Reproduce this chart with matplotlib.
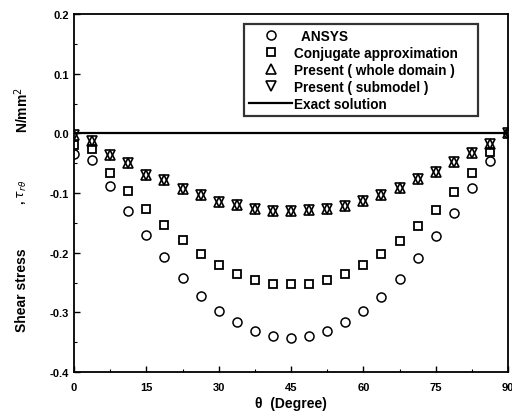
import matplotlib.pyplot as plt
from matplotlib.ticker import MultipleLocator

plt.rcParams['font.family'] = ['Liberation Sans', 'DejaVu Sans']

# angle (degree)
theta = [0, 3.75, 7.5, 11.25, 15, 18.75, 22.5, 26.25, 30, 33.75, 37.5, 41.25, 45,
         48.75, 52.5, 56.25, 60, 63.75, 67.5, 71.25, 75, 78.75, 82.5, 86.25, 90]

ansys = [-0.034, -0.044, -0.088, -0.131, -0.171, -0.208, -0.242, -0.273, -0.297,
         -0.317, -0.331, -0.340, -0.343, -0.339, -0.332, -0.317, -0.297, -0.275,
         -0.244, -0.209, -0.172, -0.133, -0.091, -0.047, 0.0]

conjugate = [-0.020, -0.027, -0.066, -0.097, -0.127, -0.154, -0.178, -0.203, -0.220,
             -0.235, -0.246, -0.252, -0.253, -0.252, -0.245, -0.235, -0.220, -0.202,
             -0.180, -0.156, -0.128, -0.098, -0.066, -0.032]

present_whole = [-0.002, -0.013, -0.036, -0.049, -0.069, -0.078, -0.093, -0.103, -0.115,
                 -0.120, -0.127, -0.130, -0.130, -0.129, -0.126, -0.122, -0.113, -0.104,
                 -0.091, -0.077, -0.065, -0.048, -0.033, -0.018, 0.0]
present_sub = [-0.002, -0.013, -0.036, -0.049, -0.069, -0.078, -0.093, -0.103, -0.115,
               -0.120, -0.127, -0.130, -0.130, -0.129, -0.126, -0.122, -0.113, -0.104,
               -0.091, -0.077, -0.065, -0.048, -0.033, -0.018, 0.0]

exact_x = [0, 90]
exact_y = [0.0, 0.0]

fig = plt.figure(figsize=(5.12, 4.14), dpi=100)
ax = fig.add_axes([74 / 512, 1 - 373 / 414, 434 / 512, 358 / 414])

ax.plot(theta, ansys, 'o', mfc='none', mec='black', ms=6.5, mew=1.1, label='  ANSYS')
ax.plot(theta[:len(conjugate)], conjugate, 's', mfc='none', mec='black', ms=5.8, mew=1.3,
        label='Conjugate approximation    ')
ax.plot(theta, present_whole, '^', mfc='none', mec='black', ms=6.5, mew=1.2,
        label='Present ( whole domain )')
ax.plot(theta, present_sub, 'v', mfc='none', mec='black', ms=6.5, mew=1.2,
        label='Present ( submodel )')
ax.plot(exact_x, exact_y, '-', color='black', lw=1.6, label='Exact solution')

ax.set_xlim(0, 90)
ax.set_ylim(-0.4, 0.2)
ax.xaxis.set_major_locator(MultipleLocator(15))
ax.xaxis.set_minor_locator(MultipleLocator(7.5))
ax.yaxis.set_major_locator(MultipleLocator(0.1))
ax.yaxis.set_minor_locator(MultipleLocator(0.05))
ax.set_yticklabels(['%.1f' % v for v in ax.get_yticks()])
ax.tick_params(which='both', direction='in', labelsize=8)
ax.tick_params(which='major', length=4, width=1)
ax.tick_params(which='minor', length=2, width=0.8)
ax.tick_params(axis='x', pad=7)
for lbl in ax.get_xticklabels() + ax.get_yticklabels():
    lbl.set_fontweight('bold')
for sp in ax.spines.values():
    sp.set_linewidth(1.3)

ax.set_xlabel('\u03b8  (Degree)', fontsize=10, fontweight='bold', labelpad=3)

# y label pieces, spread out as in the scanned figure
fig.text(22 / 512, 1 - 290 / 414, 'Shear stress', rotation=90, ha='center', va='center',
         fontsize=10, fontweight='bold')
fig.text(22 / 512, 1 - 192 / 414, ', $\\tau_{r\\theta}$', rotation=90, ha='center',
         va='center', fontsize=9, fontweight='bold')
fig.text(22 / 512, 1 - 110 / 414, 'N/mm$^2$', rotation=90, ha='center', va='center',
         fontsize=10, fontweight='bold')

leg = ax.legend(loc='upper right', bbox_to_anchor=(0.931, 0.972),
                frameon=True, fancybox=False, edgecolor='black', borderpad=0.35,
                labelspacing=0.22, handlelength=3.2, handletextpad=0.15,
                borderaxespad=0, prop={'weight': 'bold', 'size': 9.8})
leg.get_frame().set_linewidth(1.6)

plt.savefig('out.png', dpi=100)
